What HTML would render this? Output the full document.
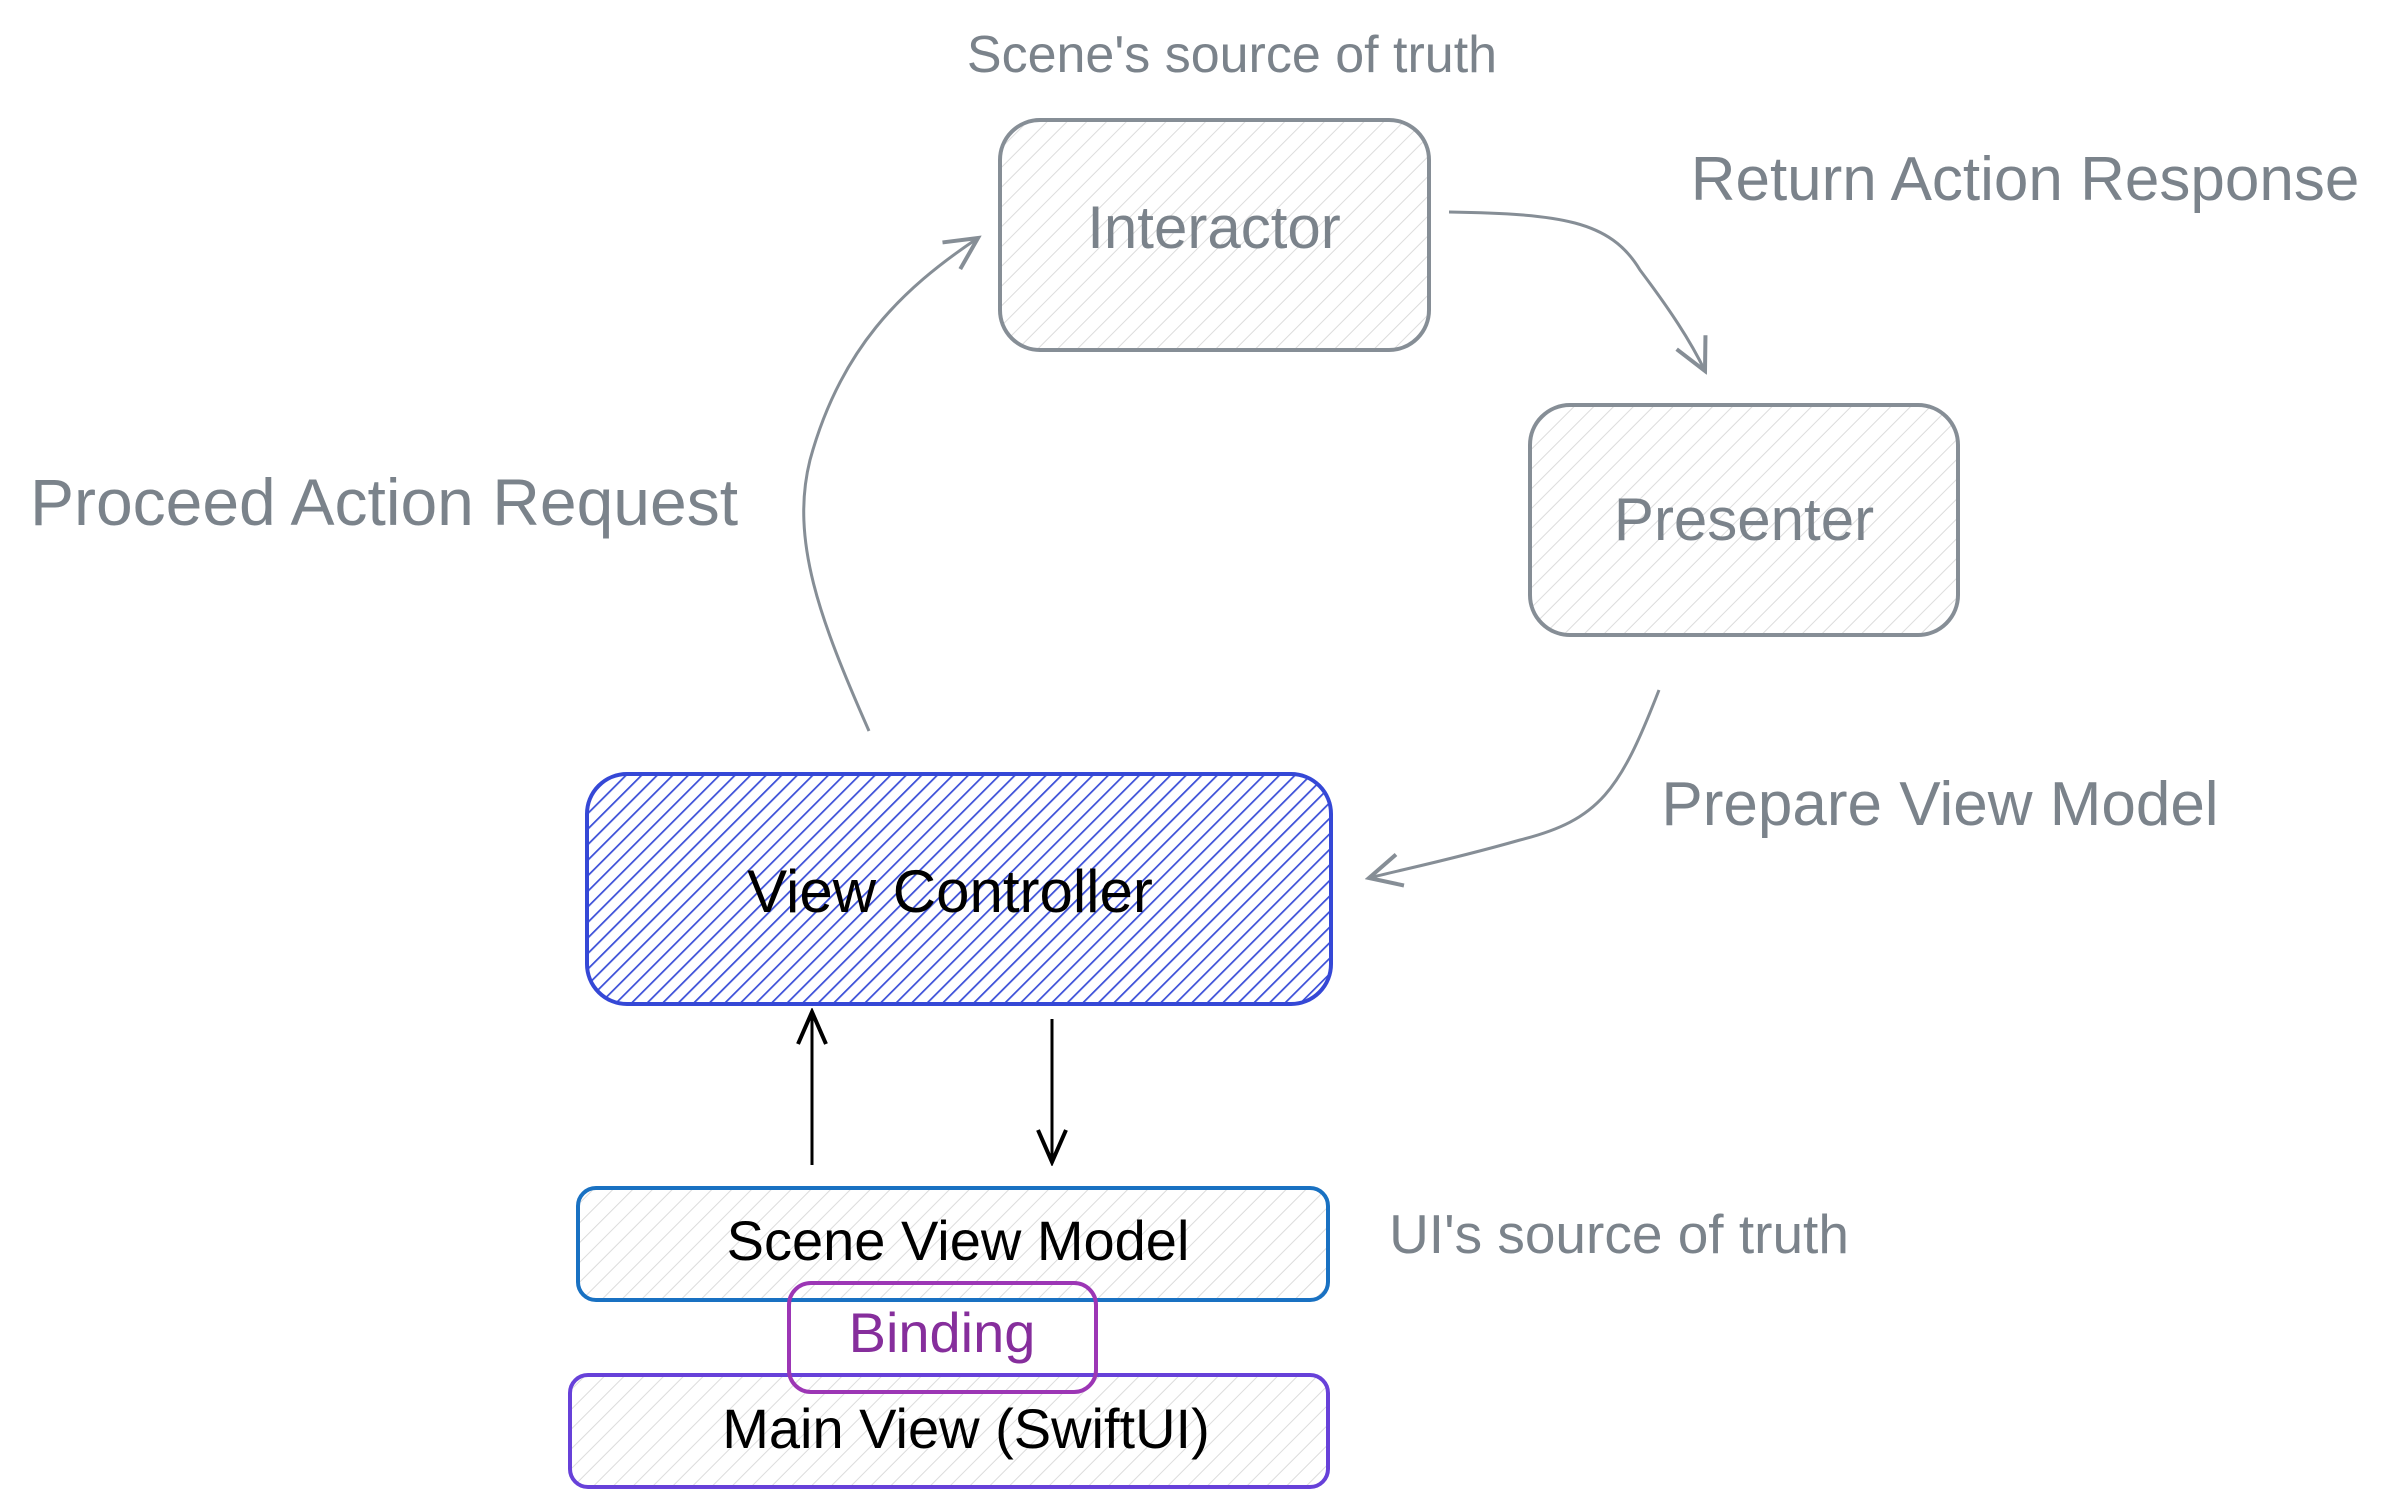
<!DOCTYPE html>
<html><head><meta charset="utf-8"><style>
html,body{margin:0;padding:0;background:#fff;}
svg{display:block;}
text{font-family:"Liberation Sans",sans-serif;}
</style></head><body>
<svg width="2391" height="1509" viewBox="0 0 2391 1509" xmlns="http://www.w3.org/2000/svg">
<defs>
<pattern id="hg" width="14" height="14" patternUnits="userSpaceOnUse" patternTransform="rotate(45)">
<line x1="0" y1="0" x2="0" y2="14" stroke="#dcdcdc" stroke-width="2"/></pattern>
<pattern id="hb" width="11" height="11" patternUnits="userSpaceOnUse" patternTransform="rotate(45)">
<rect width="11" height="11" fill="#fff"/>
<line x1="0" y1="0" x2="0" y2="11" stroke="#3b4fd8" stroke-width="3.5"/></pattern>
<marker id="ag" viewBox="0 0 20 20" refX="18" refY="10" markerWidth="40" markerHeight="40" markerUnits="userSpaceOnUse" orient="auto">
<path d="M2 2 L18 10 L2 18" fill="none" stroke="#868e96" stroke-width="2"/></marker>
<marker id="ak" viewBox="0 0 20 20" refX="18" refY="10" markerWidth="40" markerHeight="40" markerUnits="userSpaceOnUse" orient="auto">
<path d="M2 3 L18 10 L2 17" fill="none" stroke="#000" stroke-width="2"/></marker>
</defs>

<text x="1232" y="72" font-size="52" fill="#7b838b" text-anchor="middle">Scene's source of truth</text>

<rect x="1000" y="120" width="429" height="230" rx="40" fill="url(#hg)" stroke="#868e96" stroke-width="4"/>
<text x="1214" y="248" font-size="60" fill="#7b838b" text-anchor="middle">Interactor</text>

<rect x="1530" y="405" width="428" height="230" rx="40" fill="url(#hg)" stroke="#868e96" stroke-width="4"/>
<text x="1744" y="540" font-size="60" fill="#7b838b" text-anchor="middle">Presenter</text>

<rect x="587" y="774" width="744" height="230" rx="40" fill="url(#hb)" stroke="#3548d6" stroke-width="4"/>
<text x="950" y="912" font-size="60" fill="#000" text-anchor="middle">View Controller</text>

<rect x="578" y="1188" width="750" height="112" rx="18" fill="url(#hg)" stroke="#1971c2" stroke-width="4"/>
<text x="958" y="1260" font-size="56" fill="#000" text-anchor="middle">Scene View Model</text>

<rect x="570" y="1375" width="758" height="112" rx="18" fill="url(#hg)" stroke="#6741d9" stroke-width="4"/>
<text x="966" y="1448" font-size="56" fill="#000" text-anchor="middle">Main View (SwiftUI)</text>

<rect x="789" y="1283" width="307" height="109" rx="22" fill="none" stroke="#9c36b5" stroke-width="4"/>
<text x="942" y="1352" font-size="56" fill="#862e9c" text-anchor="middle">Binding</text>

<text x="2025" y="200" font-size="62" fill="#7b838b" text-anchor="middle">Return Action Response</text>
<text x="384" y="525" font-size="66" fill="#7b838b" text-anchor="middle">Proceed Action Request</text>
<text x="1940" y="825" font-size="62" fill="#7b838b" text-anchor="middle">Prepare View Model</text>
<text x="1619" y="1253" font-size="55" fill="#7b838b" text-anchor="middle">UI's source of truth</text>

<path d="M1449 212 C1560 214 1610 220 1640 270 C1670 310 1690 340 1705 371" fill="none" stroke="#868e96" stroke-width="3" marker-end="url(#ag)"/>
<path d="M1659 690 C1620 790 1600 820 1520 840 C1450 860 1400 870 1369 878" fill="none" stroke="#868e96" stroke-width="3" marker-end="url(#ag)"/>
<path d="M869 731 C820 620 790 540 810 460 C840 350 900 290 978 238" fill="none" stroke="#868e96" stroke-width="3" marker-end="url(#ag)"/>

<path d="M812 1165 L812 1012" fill="none" stroke="#000" stroke-width="3" marker-end="url(#ak)"/>
<path d="M1052 1019 L1052 1162" fill="none" stroke="#000" stroke-width="3" marker-end="url(#ak)"/>
</svg>
</body></html>
